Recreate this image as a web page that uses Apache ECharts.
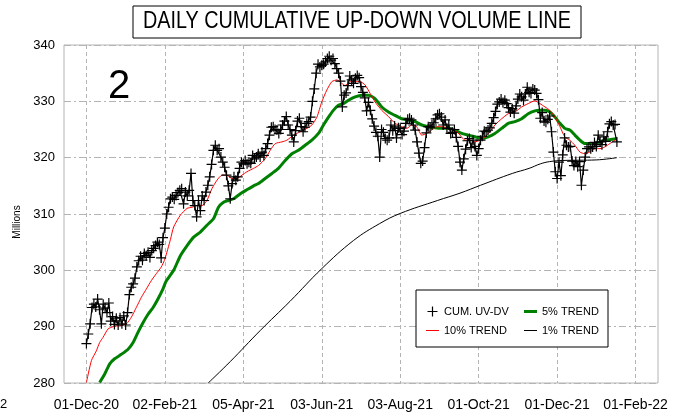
<!DOCTYPE html>
<html>
<head>
<meta charset="UTF-8">
<title>Daily Cumulative Up-Down Volume Line</title>
<script src="https://cdn.jsdelivr.net/npm/echarts@6/dist/echarts.min.js"></script>
<style>
html, body { margin: 0; padding: 0; background: #fff; }
#chart { width: 677px; height: 415px; }
</style>
</head>
<body>
<div id="chart"></div>
<script>
// x axis = trading day index from 01-Dec-20
var tickDays = [0, 42, 84, 126, 168, 210, 252, 294];
var tickLabels = ['01-Dec-20', '02-Feb-21', '05-Apr-21', '03-Jun-21', '03-Aug-21', '01-Oct-21', '01-Dec-21', '01-Feb-22'];

// CUM. UV-DV, one value per trading day (millions)
var cumValues = [
  287.0, 288.7, 290.5, 293.4, 294.0, 293.5, 294.9, 293.0, 290.5, 294.0,
  293.3, 292.5, 294.2, 291.0, 291.8, 290.4, 291.5, 290.3, 291.6, 290.5,
  291.9, 290.3, 292.5, 295.7, 297.0, 297.6, 298.6, 300.6, 301.7, 302.5,
  301.8, 303.0, 302.6, 303.2, 302.3, 303.5, 303.9, 304.4, 305.0, 304.6,
  302.2, 305.8, 307.5, 310.0,
  311.2, 312.7, 313.0, 312.6, 313.3, 313.8, 314.2, 314.5, 311.8, 313.9,
  313.2, 314.2, 317.2, 312.4, 311.5, 309.5, 312.4, 310.6, 313.2, 312.4,
  313.9, 315.1, 316.6, 318.8, 321.3, 322.2, 321.3, 321.6, 320.1, 319.2,
  318.3, 316.9, 315.0, 312.7, 315.4, 316.6, 316.0, 316.6, 318.1, 319.2,
  318.9, 319.5, 318.9, 319.2, 319.0, 320.4,
  319.8, 320.1, 320.7, 320.1, 321.0, 320.4, 321.6, 322.5, 324.0, 325.4,
  325.5, 325.0, 324.9, 324.3, 325.0, 325.8, 326.5, 327.3, 325.8, 325.0,
  324.0, 322.8, 324.8, 326.5, 327.0, 325.5, 324.6, 325.4, 326.1, 326.4,
  327.2, 330.0, 332.2, 335.0, 336.6, 336.1, 336.4, 336.6, 337.0, 337.6,
  338.0, 337.3, 337.6, 336.7, 335.8, 335.0, 333.6, 329.0, 331.1,
  331.5, 332.8, 334.5, 333.8, 333.2, 334.1, 334.6, 334.2, 332.6, 331.6,
  330.6, 328.3, 329.8, 328.4, 326.9, 325.6, 324.5, 323.8, 320.1, 325.0,
  324.5, 323.4, 323.1, 323.5, 325.8, 324.8, 325.6, 323.5, 325.3, 325.2,
  324.1, 324.7, 326.1, 326.8, 327.0, 326.7, 325.8, 324.9, 322.8, 320.8,
  319.0, 319.4, 321.8, 324.4, 325.5, 325.4, 325.8, 326.2, 326.9, 327.6,
  327.8, 327.2, 325.8, 326.7, 325.2, 325.8, 324.3, 324.5, 325.0, 323.6,
  322.0, 319.2, 317.8, 319.8, 321.5, 323.0, 323.4, 321.8, 323.1, 322.0,
  320.4, 321.6, 323.1, 323.8, 324.7, 324.6, 324.9, 325.3, 326.1, 327.1,
  328.2, 329.5, 329.9, 330.4, 329.8, 330.2, 329.6, 328.9, 328.1, 328.7,
  327.9, 329.2, 330.4, 331.3, 330.8, 330.2, 331.3, 332.5, 331.6, 331.4,
  332.2, 332.0, 331.4, 330.3, 327.0,
  328.0, 326.5, 326.3, 326.8, 327.4, 324.6, 321.0, 317.5, 316.3, 319.2,
  316.8, 320.5, 323.5, 322.2, 321.9, 322.0, 319.4, 318.6, 319.3, 318.4,
  319.3, 315.1, 317.8, 320.1, 321.6, 321.9, 321.6, 321.9, 322.7, 322.0,
  324.0, 322.8, 322.3, 323.7, 322.9, 324.6, 326.0, 326.4, 325.8, 325.9,
  322.8
];

// 10% trend, read at sample days
var trend10Days = [0, 2.7, 5.3, 7.1, 8.9, 11.6, 14.3, 17.8, 21.4, 24.1, 26.7, 29.4, 32.1, 34.8, 37.4, 40.1, 42, 45,
  46.7, 50.3, 53.9, 56.5, 59.2, 61.9, 64.5, 67.2, 69.9, 72.6, 75.2, 77.9, 80.6, 83.3, 85.9, 89.5, 92.1, 95.7,
  98.4, 101.1, 104.7, 107.3, 110.9, 114.4, 118, 120.7, 123.4, 126, 128.7, 131.4, 134.1, 136.7, 138.5, 141.2,
  143.9, 146.5, 149.2, 151.9, 154.5, 158.1, 161.7, 165.2, 168.8, 171.5, 174.2, 176.8, 179.5, 182.2, 184.9,
  187.5, 190.2, 193.7, 197.3, 200, 202.7, 205.3, 208, 210.7, 213.4, 216, 218.7, 222.3, 225.8, 229.4, 233,
  236.5, 240.1, 242.8, 245.5, 248.1, 250.8, 253.5, 256.1, 258.8, 261.5, 264.2, 266.8, 269.5, 272.2, 274.9,
  277.5, 280.2, 282.9, 284];
var trend10Values = [280.1, 284.0, 285.7, 287.2, 288.1, 289.6, 290.0, 290.2, 290.5, 291.7, 293.4, 295.2, 296.7, 298.2, 299.4, 300.6, 302.0, 305.5,
  307.7, 309.8, 311.0, 311.2, 311.5, 311.5, 312.4, 314.5, 316.0, 316.9, 316.9, 316.3, 316.3, 316.9, 317.5, 318.1, 318.6, 319.8,
  321.3, 322.5, 322.8, 323.1, 324.0, 324.6, 325.2, 325.8, 327.2, 329.9, 332.0, 333.5, 333.8, 333.2, 332.8, 333.5,
  333.5, 333.5, 332.9, 331.4, 329.9, 328.4, 327.3, 326.1, 325.5, 325.2, 325.8, 325.5, 324.0, 324.3, 324.9,
  325.5, 325.5, 325.2, 324.9, 324.0, 323.1, 323.1, 322.8, 323.1, 323.7, 324.6, 325.8, 326.9, 327.8, 328.1, 329.0,
  329.6, 330.1, 329.6, 329.0, 328.4, 327.2, 325.5, 323.7, 323.1, 322.2, 321.0, 320.7, 321.0, 321.6, 321.6,
  321.9, 322.5, 323.1, 323.3];

// 5% trend
var trend5Days = [7.1, 9.8, 12.5, 15.1, 18.7, 22.3, 25, 27.6, 30.3, 33, 35.7, 38.3, 41, 42.4, 46.7, 50.3, 53.9, 57.4,
  61, 64.5, 68.1, 70.7, 73.4, 76.1, 78.8, 82.4, 85.9, 89.5, 92.1, 95.7, 99.3, 102.8, 106.4, 110, 113.5, 117.1,
  120.7, 124.2, 126.9, 129.6, 132.2, 134.9, 137.6, 140.3, 143.9, 147.4, 151, 154.5, 158.1, 161.7, 165.2, 168.8,
  172.4, 176, 179.5, 183, 186.6, 190.2, 193.7, 197.3, 200.9, 204.4, 208, 211.6, 215.1, 218.7, 222.3, 225.8,
  229.4, 233, 236.5, 240.1, 242.8, 245.5, 248.1, 250.8, 253.5, 256.1, 258.8, 261.5, 264.2, 266.8, 269.5, 272.2,
  274.9, 277.5, 280.2, 284];
var trend5Values = [280.1, 281.6, 283.4, 284.3, 285.1, 286.0, 287.2, 289.0, 290.7, 292.2, 293.4, 294.9, 296.7, 297.9, 300.0, 302.6, 304.4, 305.9,
  306.8, 308.0, 309.2, 311.2, 312.1, 312.4, 312.7, 313.6, 314.3, 315.0, 315.4, 316.3, 317.2, 318.1, 319.5, 320.7, 321.3, 322.2,
  323.1, 324.3, 325.8, 327.2, 328.4, 329.3, 329.6, 330.2, 330.8, 331.1, 331.1, 330.5, 329.0, 328.1, 327.5, 326.9,
  326.7, 326.4, 325.8, 325.5, 325.3, 325.2, 325.2, 324.9, 324.3, 324.0, 323.7, 323.4, 323.7, 324.3, 325.2, 326.1,
  326.4, 326.9, 327.8, 328.3, 328.4, 328.4, 328.1, 327.2, 326.1, 325.2, 324.9, 324.0, 323.1, 322.5, 322.5, 322.5,
  322.8, 323.1, 323.2, 323.4];

// 1% trend
var trend1Days = [65.2, 77, 93, 109, 126, 143, 157, 168, 188, 200, 211, 228, 237, 243, 248, 255, 273, 284];
var trend1Values = [280.0, 283.8, 289.3, 294.5, 300.3, 305.3, 308.3, 310.1, 312.4, 313.7, 315.1, 317.2, 318.1, 318.9, 319.3, 319.5, 319.6, 320.0];

var FONT = '"Liberation Sans", Arial, sans-serif';
var PLUS = 'path://M4.4,0H5.6V4.4H10V5.6H5.6V10H4.4V5.6H0V4.4H4.4Z';
var THIN = 'path://M0,0H13V1H0Z';
var THICK = 'path://M0,0H13V3H0Z';

function pairs(xs, ys) {
  var out = [];
  for (var i = 0; i < xs.length; i++) out.push([xs[i], ys[i]]);
  return out;
}

var chart = echarts.init(document.getElementById('chart'));
var option = {
  animation: false,
  backgroundColor: '#fff',
  textStyle: { fontFamily: FONT },
  grid: { left: 64, right: 19, top: 45, bottom: 32, show: true, borderColor: '#b4b4b4', borderWidth: 1 },
  xAxis: {
    type: 'value', min: -12, max: 306,
    axisLine: { show: false },
    axisTick: { show: false, customValues: tickDays },
    axisLabel: {
      customValues: tickDays, fontSize: 14, color: '#000', margin: 15, fontFamily: FONT,
      formatter: function (v) { return tickLabels[tickDays.indexOf(v)]; }
    },
    splitLine: { show: true, lineStyle: { color: '#b4b4b4', type: [4, 3], width: 1 } }
  },
  yAxis: {
    type: 'value', min: 280, max: 340, interval: 10,
    axisLine: { show: false }, axisTick: { show: false },
    axisLabel: { fontSize: 13, color: '#000', margin: 9, fontFamily: FONT },
    splitLine: { show: true, lineStyle: { color: '#b4b4b4', type: [7, 3, 2, 3], width: 1 } }
  },
  legend: [
    {
      left: 421, top: 301, orient: 'vertical', itemGap: 8, itemWidth: 13, itemHeight: 10, selectedMode: false,
      textStyle: { fontSize: 11, color: '#000', fontFamily: FONT },
      data: [{ name: 'CUM. UV-DV', icon: PLUS }, { name: '10% TREND', icon: THIN }]
    },
    {
      left: 519, top: 301, orient: 'vertical', itemGap: 8, itemWidth: 13, itemHeight: 10, selectedMode: false,
      textStyle: { fontSize: 11, color: '#000', fontFamily: FONT },
      data: [{ name: '5% TREND', icon: THICK }, { name: '1% TREND', icon: THIN }]
    }
  ],
  series: [
    {
      name: '1% TREND', type: 'line', data: pairs(trend1Days, trend1Values), showSymbol: false, smooth: 0.4,
      color: '#000', lineStyle: { color: '#000', width: 1 }, z: 2
    },
    {
      name: '5% TREND', type: 'line', data: pairs(trend5Days, trend5Values), showSymbol: false, smooth: 0.2,
      color: '#008000', lineStyle: { color: '#008000', width: 3 }, z: 3
    },
    {
      name: '10% TREND', type: 'line', data: pairs(trend10Days, trend10Values), showSymbol: false, smooth: 0.2,
      color: '#ff0000', lineStyle: { color: '#ff0000', width: 1 }, z: 4
    },
    {
      name: 'CUM. UV-DV', type: 'line', data: cumValues.map(function (v, i) { return [i, v]; }),
      symbol: PLUS, symbolSize: 10, showAllSymbol: true,
      color: '#000', itemStyle: { color: '#000' }, lineStyle: { color: '#000', width: 1.2 }, z: 5
    }
  ],
  graphic: [
    { type: 'rect', shape: { x: 133, y: 6, width: 448, height: 32 }, style: { fill: '#fff', stroke: '#000', lineWidth: 1 }, z: 10 },
    {
      type: 'text', x: 357, y: 22, scaleX: 0.86, z: 11,
      style: { text: 'DAILY CUMULATIVE UP-DOWN VOLUME LINE', fontSize: 23, fontFamily: FONT, fill: '#000', textAlign: 'center', textVerticalAlign: 'middle' }
    },
    { type: 'rect', shape: { x: 416, y: 290, width: 192, height: 57 }, style: { fill: '#fff', stroke: '#000', lineWidth: 1 }, z: 1 },
    {
      type: 'text', x: 119, y: 87, z: 11,
      style: { text: '2', fontSize: 40, fontFamily: FONT, fill: '#000', textAlign: 'center', textVerticalAlign: 'middle' }
    },
    {
      type: 'text', x: 17, y: 222, rotation: Math.PI / 2, z: 11,
      style: { text: 'Millions', fontSize: 10, fontFamily: FONT, fill: '#000', textAlign: 'center', textVerticalAlign: 'middle' }
    },
    {
      type: 'text', x: 0, y: 404, z: 11,
      style: { text: '2', fontSize: 13, fontFamily: FONT, fill: '#000', textAlign: 'left', textVerticalAlign: 'middle' }
    }
  ]
};
chart.setOption(option);
</script>
</body>
</html>
